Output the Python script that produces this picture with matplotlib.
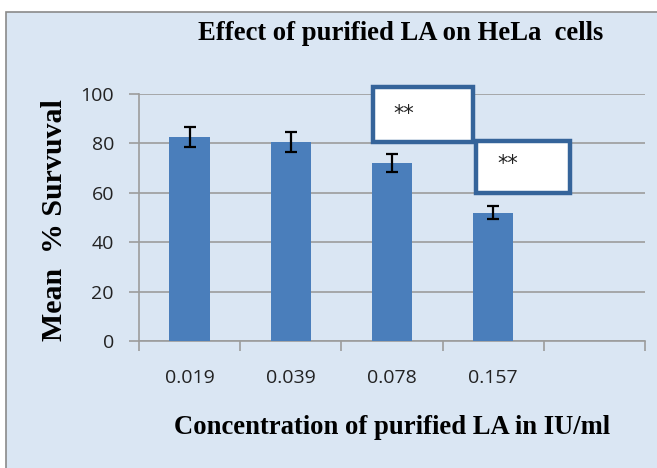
import matplotlib
matplotlib.use("Agg")
import matplotlib.pyplot as plt
from matplotlib.patches import Rectangle

# dados
concentracoes = ["0.019", "0.039", "0.078", "0.157", ""]
sobrevivencia = [82.5, 80.5, 72.0, 52.0]
erro = [4.0, 4.0, 3.7, 2.8]
marcas = ["**", "**"]

cor_barra = "#4a7ebb"
cor_fundo = "#dae6f3"
cor_grade = "#9c9c9c"
cor_caixa = "#35649a"

fig = plt.figure(figsize=(6.57, 4.68), dpi=100)
fig.patch.set_facecolor("white")

# moldura do grafico com fundo azul claro
W, H = 657.0, 468.0
fundo = Rectangle((6 / W, -0.01), 1.0, 1 - 12 / H + 0.01, transform=fig.transFigure,
                  facecolor=cor_fundo, edgecolor="#8a8a8a", lw=1.2, zorder=-5)
fig.patches.append(fundo)

ax = fig.add_axes([139 / W, 1 - 341 / H, (645 - 139) / W, (341 - 94) / H])
ax.set_facecolor("none")
ax.set_zorder(2)

x = list(range(len(sobrevivencia)))
ax.bar(x, sobrevivencia, width=0.4, color=cor_barra, zorder=3)
ax.errorbar(x, sobrevivencia, yerr=erro, fmt="none", ecolor="black",
            elinewidth=1.6, capsize=4.5, capthick=1.6, zorder=4)

ax.set_xlim(-0.5, 4.5)
ax.set_ylim(0, 100)
ax.set_yticks([0, 20, 40, 60, 80, 100])
ax.yaxis.grid(True, color=cor_grade, lw=1.2, zorder=1)
ax.set_axisbelow(True)

# marcas nas divisas das categorias, rotulos no centro
ax.set_xticks([i - 0.5 for i in range(6)])
ax.set_xticklabels([])
ax.set_xticks(range(5), minor=True)
ax.set_xticklabels(concentracoes, minor=True)
ax.tick_params(axis="x", which="major", direction="out", length=7, color=cor_grade, width=1.2)
ax.tick_params(axis="x", which="minor", length=0, pad=20, labelsize=14, labelcolor="#222222")
ax.tick_params(axis="y", direction="out", length=7, color=cor_grade, width=1.2,
               pad=11, labelsize=14, labelcolor="#222222")
for lbl in ax.get_xticklabels(minor=True) + ax.get_yticklabels():
    lbl.set_family("Open Sans")

for s in ["top", "right"]:
    ax.spines[s].set_visible(False)
for s in ["left", "bottom"]:
    ax.spines[s].set_color(cor_grade)
    ax.spines[s].set_linewidth(1.2)

# caixas com asteriscos
caixas = [(1.81, 80.5, 0.99, 22.3), (2.83, 60.0, 0.93, 21.0)]
pos_txt = [(2.12, 92.0), (3.14, 71.5)]
for (bx, by, bw, bh), (tx, ty), m in zip(caixas, pos_txt, marcas):
    ax.add_patch(Rectangle((bx, by), bw, bh, facecolor="white", edgecolor=cor_caixa,
                           lw=3.2, clip_on=False, zorder=5))
    ax.text(tx, ty, m, fontsize=15, ha="center", va="center", zorder=6,
            family="DejaVu Sans", color="#222222")

fig.text(401 / W, 1 - 34 / H, "Effect of purified LA on HeLa  cells", ha="center", va="center",
         fontsize=19.2, fontweight="bold", family="Liberation Serif")
fig.text(392 / W, 1 - 428 / H, "Concentration of purified LA in IU/ml", ha="center", va="center",
         fontsize=19.2, fontweight="bold", family="Liberation Serif")
fig.text(55 / W, 1 - 220 / H, "Mean  % Survuval", ha="center", va="center", rotation=90,
         fontsize=21.5, fontweight="bold", family="Liberation Serif")

plt.savefig("out.png", dpi=100)
